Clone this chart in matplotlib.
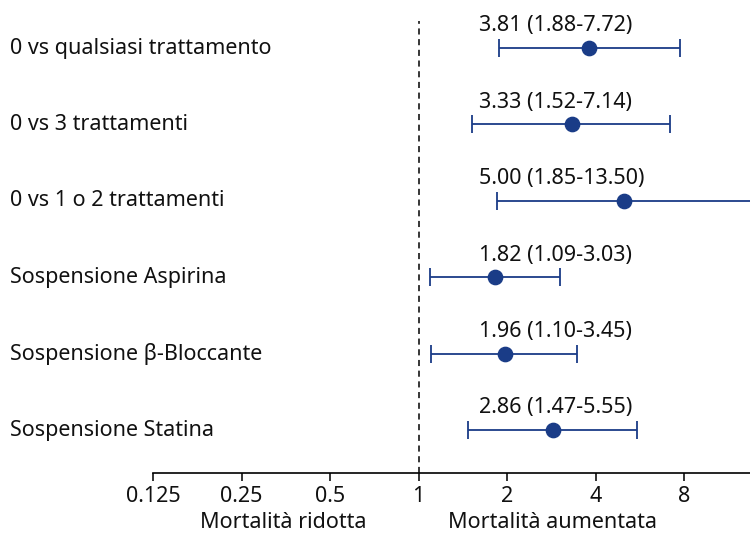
import matplotlib
matplotlib.use("Agg")
import matplotlib.pyplot as plt
import matplotlib.transforms as mtransforms
import numpy as np

plt.rcParams['font.family'] = ['Noto Sans', 'DejaVu Sans']

labels = ["0 vs qualsiasi trattamento", "0 vs 3 trattamenti", "0 vs 1 o 2 trattamenti",
          "Sospensione Aspirina", "Sospensione β-Bloccante", "Sospensione Statina"]
hr = [3.81, 3.33, 5.00, 1.82, 1.96, 2.86]
lo = [1.88, 1.52, 1.85, 1.09, 1.10, 1.47]
hi = [7.72, 7.14, 13.50, 3.03, 3.45, 5.55]
hr_text = ["3.81 (1.88-7.72)", "3.33 (1.52-7.14)", "5.00 (1.85-13.50)",
           "1.82 (1.09-3.03)", "1.96 (1.10-3.45)", "2.86 (1.47-5.55)"]
xticks = [0.125, 0.25, 0.5, 1, 2, 4, 8]
xticklabels = ["0.125", "0.25", "0.5", "1", "2", "4", "8"]

color = '#1a3c87'
fs = 15.5

fig = plt.figure(figsize=(7.5, 5.4), dpi=100)
ax = fig.add_axes([0.204, 0.124, 0.796, 0.837])
ax.set_xscale('log', base=2)
ax.set_xlim(0.125, 13.4)
ax.set_ylim(5.563, -0.353)

y = np.arange(len(labels))
hr_a = np.array(hr); lo_a = np.array(lo); hi_a = np.array(hi)
ax.errorbar(hr_a, y, xerr=[hr_a - lo_a, hi_a - hr_a], fmt='o', color=color,
            ecolor=color, elinewidth=1.3, capsize=6.5, capthick=1.3,
            markersize=10.3, zorder=3)
ax.axvline(1, color='black', lw=1.1, linestyle=(0, (4, 3)), zorder=1)

for i, t in enumerate(hr_text):
    ax.text(1.6, y[i] - 0.29, t, ha='left', va='center', fontsize=fs, color='#111111')

trans = mtransforms.blended_transform_factory(fig.transFigure, ax.transData)
for i, lab in enumerate(labels):
    ax.text(10 / 750, y[i], lab, transform=trans, ha='left', va='center',
            fontsize=fs, color='#111111')

ax.set_xticks(xticks)
ax.set_xticklabels(xticklabels, fontsize=fs)
ax.minorticks_off()
ax.xaxis.set_minor_locator(matplotlib.ticker.NullLocator())
ax.set_yticks([])
for s in ['top', 'right', 'left']:
    ax.spines[s].set_visible(False)
ax.spines['bottom'].set_linewidth(1.2)
ax.tick_params(axis='x', length=6, width=1.2, pad=3, colors='#111111')

fig.text(283 / 750, 1 - 523 / 540, "Mortalità ridotta", ha='center', va='center', fontsize=fs, color='#111111')
fig.text(553 / 750, 1 - 523 / 540, "Mortalità aumentata", ha='center', va='center', fontsize=fs, color='#111111')

fig.savefig("out.png", dpi=100)
